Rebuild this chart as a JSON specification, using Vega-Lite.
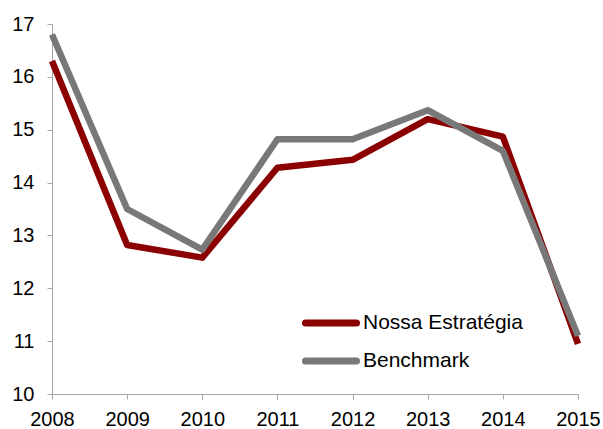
{
  "$schema": "https://vega.github.io/schema/vega-lite/v6.json",
  "width": 526,
  "height": 370,
  "autosize": "none",
  "padding": {"left": 52, "top": 24, "right": 25, "bottom": 35},
  "background": "white",
  "config": {
    "view": {"stroke": null},
    "font": "Liberation Sans",
    "axis": {"grid": false, "domainColor": "#a6a6a6", "tickColor": "#a6a6a6", "tickSize": 5, "labelColor": "#000000", "labelFontSize": 20, "labelFont": "Liberation Sans", "title": null, "domainWidth": 1, "tickWidth": 1}
  },
  "data": {"values": [
    {"year": 2008, "value": 16.3, "series": "Nossa Estratégia"},
    {"year": 2009, "value": 12.82, "series": "Nossa Estratégia"},
    {"year": 2010, "value": 12.58, "series": "Nossa Estratégia"},
    {"year": 2011, "value": 14.28, "series": "Nossa Estratégia"},
    {"year": 2012, "value": 14.43, "series": "Nossa Estratégia"},
    {"year": 2013, "value": 15.2, "series": "Nossa Estratégia"},
    {"year": 2014, "value": 14.87, "series": "Nossa Estratégia"},
    {"year": 2015, "value": 10.95, "series": "Nossa Estratégia"},
    {"year": 2008, "value": 16.8, "series": "Benchmark"},
    {"year": 2009, "value": 13.5, "series": "Benchmark"},
    {"year": 2010, "value": 12.73, "series": "Benchmark"},
    {"year": 2011, "value": 14.82, "series": "Benchmark"},
    {"year": 2012, "value": 14.82, "series": "Benchmark"},
    {"year": 2013, "value": 15.37, "series": "Benchmark"},
    {"year": 2014, "value": 14.6, "series": "Benchmark"},
    {"year": 2015, "value": 11.1, "series": "Benchmark"}
  ]},
  "mark": {"type": "line", "strokeWidth": 6.5, "strokeJoin": "round", "strokeCap": "butt", "clip": false},
  "encoding": {
    "x": {"field": "year", "type": "quantitative", "scale": {"domain": [2008, 2015], "nice": false, "zero": false},
      "axis": {"values": [2008, 2009, 2010, 2011, 2012, 2013, 2014, 2015], "format": "d", "labelPadding": 10, "labelFlush": false, "labelOverlap": false}},
    "y": {"field": "value", "type": "quantitative", "scale": {"domain": [10, 17], "nice": false, "zero": false},
      "axis": {"values": [10, 11, 12, 13, 14, 15, 16, 17], "labelPadding": 13, "labelFlush": false}},
    "color": {"field": "series", "type": "nominal",
      "scale": {"domain": ["Nossa Estratégia", "Benchmark"], "range": ["#8b0000", "#787878"]},
      "legend": {"title": null, "orient": "none", "legendX": 250, "legendY": 280, "symbolType": "stroke", "symbolStrokeWidth": 7, "symbolSize": 2601, "labelFontSize": 21, "labelFont": "Liberation Sans", "labelColor": "#000000", "labelOffset": 3, "rowPadding": 0, "clipHeight": 38,
        "encode": {"symbols": {"update": {"strokeCap": {"value": "round"}}}}}},
    "order": {"field": "series", "sort": "ascending"}
  }
}
